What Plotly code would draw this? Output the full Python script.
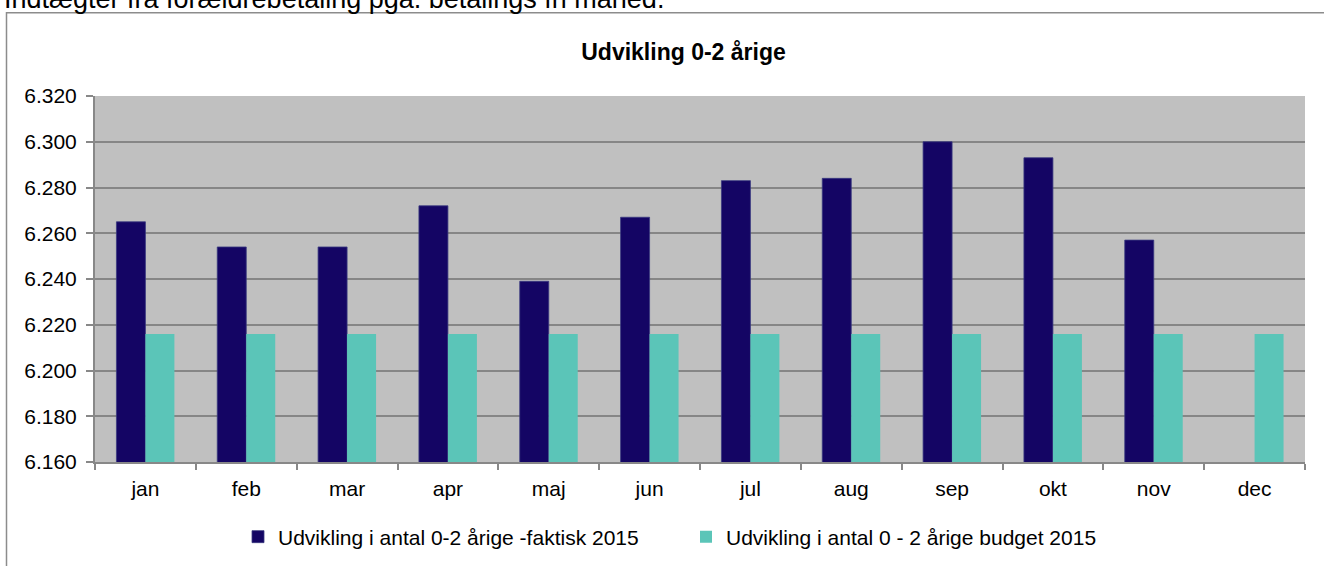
import plotly.graph_objects as go

months = ["jan", "feb", "mar", "apr", "maj", "jun", "jul", "aug", "sep", "okt", "nov", "dec"]
faktisk_2015 = [6265, 6254, 6254, 6272, 6239, 6267, 6283, 6284, 6300, 6293, 6257, None]
budget_2015 = [6216, 6216, 6216, 6216, 6216, 6216, 6216, 6216, 6216, 6216, 6216, 6216]
y_ticks = [6160, 6180, 6200, 6220, 6240, 6260, 6280, 6300, 6320]

W, H = 1324, 566
ML, MR, MT, MB = 95, 19, 96, 104
PW, PH = W - ML - MR, H - MT - MB


def px_x(p):
    return (p - ML) / PW


def px_y(p):
    return (H - MB - p) / PH


FONT = "Liberation Sans, Arial, sans-serif"

fig = go.Figure()
fig.add_trace(go.Bar(
    x=months, y=faktisk_2015, name="Udvikling i antal 0-2 årige -faktisk 2015",
    marker=dict(color="#140564", line=dict(color="#3a3a80", width=0.8)),
))
fig.add_trace(go.Bar(
    x=months, y=budget_2015, name="Udvikling i antal 0 - 2 årige budget 2015",
    marker=dict(color="#5bc5b8", line=dict(width=0)),
))

fig.update_layout(
    width=W, height=H,
    margin=dict(l=ML, r=MR, t=MT, b=MB, autoexpand=False),
    paper_bgcolor="white",
    plot_bgcolor="#c0c0c0",
    separators=",.",
    barmode="group",
    bargap=0.425,
    bargroupgap=0,
    font=dict(family=FONT, size=21, color="black"),
    title=dict(
        text="<b>Udvikling 0-2 årige</b>",
        font=dict(family=FONT, size=23, color="black"),
        x=683.5 / W, xanchor="center",
        y=1 - 52 / H, yanchor="middle",
    ),
    showlegend=True,
    legend=dict(
        orientation="h",
        x=px_x(238), xanchor="left",
        y=px_y(537), yanchor="middle",
        font=dict(family=FONT, size=21, color="black"),
        entrywidth=403, entrywidthmode="pixels",
        traceorder="normal",
        bgcolor="rgba(0,0,0,0)",
    ),
    xaxis=dict(
        type="category",
        showline=True, linecolor="#888888", linewidth=2,
        ticks="outside", tickson="boundaries", ticklen=6,
        tickcolor="#888888", tickwidth=2,
        showgrid=False,
        tickfont=dict(family=FONT, size=21, color="black"),
        ticklabelstandoff=7,
    ),
    yaxis=dict(
        range=[6160, 6320],
        tickvals=y_ticks,
        tickformat=",d",
        showline=True, linecolor="#888888", linewidth=2,
        ticks="outside", ticklen=7, tickcolor="#888888", tickwidth=2,
        showgrid=True, gridcolor="#868686", gridwidth=1.5,
        zeroline=False,
        tickfont=dict(family=FONT, size=21, color="black"),
        ticklabelstandoff=5,
    ),
    shapes=[
        dict(type="rect", xref="paper", yref="paper",
             x0=px_x(6.5), x1=px_x(1345), y0=px_y(620), y1=px_y(12.7),
             line=dict(color="#8c8c8c", width=1.5), fillcolor="rgba(0,0,0,0)",
             layer="below"),
    ],
    annotations=[
        dict(text="Indtægter fra forældrebetaling pga. betalings fri måned.",
             xref="paper", yref="paper",
             x=px_x(2), xanchor="left",
             y=px_y(16), yanchor="bottom",
             showarrow=False,
             font=dict(family=FONT, size=27, color="black")),
    ],
)

fig.write_html(
    "out.html",
    config={"displayModeBar": False},
    post_script="document.body.style.margin='0';document.body.style.overflow='hidden';",
)
